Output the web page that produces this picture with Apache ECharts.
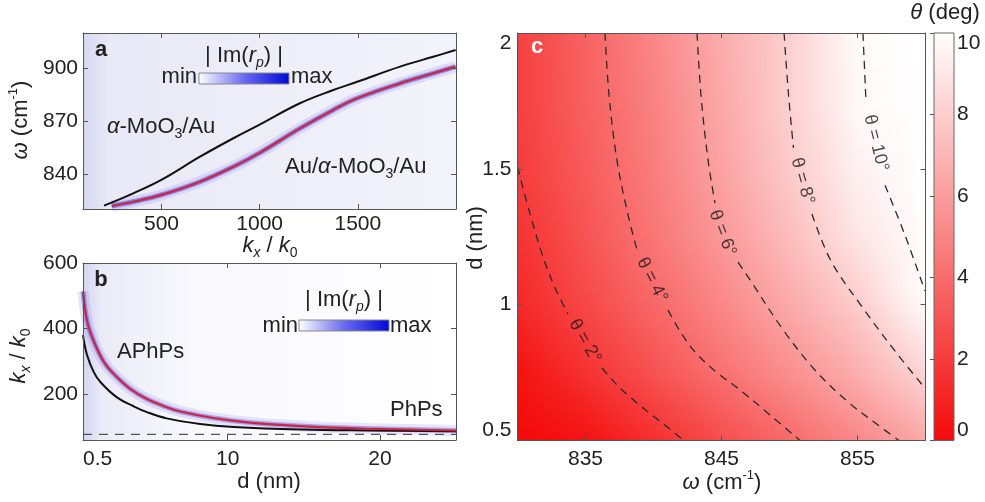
<!DOCTYPE html>
<html><head><meta charset="utf-8">
<script src="https://cdn.jsdelivr.net/npm/echarts@6/dist/echarts.min.js"></script>
<style>html,body{margin:0;padding:0;background:#fff}#chart{width:985px;height:502px}</style>
</head><body><div id="chart"></div>
<script>
// ---------------- data ----------------
// panel a : dispersion omega(kx)
const aTicksX = [500, 1000, 1500];
const aTicksY = [840, 870, 900];
const aBlack_k = [207, 356, 499, 696, 866, 995, 1205, 1375, 1497, 1715, 1884, 1998];
const aBlack_w = [821.9, 828.9, 836.5, 849.7, 860.2, 867.7, 880.1, 887.6, 892.3, 900.9, 906.5, 910.3];
const aRed_k = [246, 356, 499, 696, 866, 995, 1205, 1375, 1497, 1715, 1884, 1998];
const aRed_w = [821.7, 824.1, 828.0, 835.5, 844.0, 851.6, 865.8, 876.3, 882.9, 891.4, 897.1, 900.9];
// panel b : kx(d)
const bTicksX = [0.5, 10, 20];
const bTicksY = [200, 400, 600];
const bBlack_d = [0.5, 0.76, 1.2, 1.64, 2.73, 3.82, 4.7, 6.0, 8.2, 10.4, 14.8, 19.1, 25];
const bBlack_k = [380, 320, 268, 237, 190, 163, 145, 126, 109, 100, 92, 89, 87];
const bRed_d = [0.5, 0.76, 1.2, 1.85, 2.51, 3.6, 4.7, 6.0, 6.89, 9.07, 11.26, 15.4, 19.1, 25];
const bRed_k = [513, 425, 362, 300, 262, 216, 185, 160, 147, 127, 114, 101, 95, 89];
const bAsymptote = 77;
// panel c : theta(omega, d)
const cTicksX = [835, 845, 855];
const cTicksY = [0.5, 1, 1.5, 2];
const cOmega = [830, 835, 840, 845, 850, 855, 860];
const cD = [0.5, 0.75, 1.0, 1.25, 1.5, 1.75, 2.0];
const theta_d050 = [0.0, 0.3, 1.5, 2.7, 3.9, 5.1, 6.4];
const theta_d075 = [0.3, 1.6, 2.9, 4.2, 5.4, 6.7, 8.3];
const theta_d100 = [1.2, 2.5, 3.8, 5.1, 6.5, 7.9, 9.8];
const theta_d125 = [1.6, 3.0, 4.4, 5.8, 7.3, 8.9, 10.5];
const theta_d150 = [2.0, 3.3, 4.7, 6.2, 7.8, 9.4, 11.1];
const theta_d175 = [2.15, 3.5, 4.9, 6.45, 8.1, 9.75, 11.5];
const theta_d200 = [2.2, 3.6, 5.1, 6.6, 8.1, 9.8, 11.6];
// contour lines (split around their labels)
const c2_pre  = [[830, 1.507], [830.92, 1.334], [831.88, 1.175], [832.83, 1.054], [833.71, 0.966]];
const c2_post = [[836.21, 0.767], [837.17, 0.712], [838.27, 0.660], [839.6, 0.605], [840.92, 0.553], [842.24, 0.5]];
const c4_pre  = [[836.43, 2.0], [836.73, 1.772], [837.32, 1.529], [838.13, 1.330], [838.79, 1.201]];
const c4_post = [[841.07, 0.980], [841.99, 0.899], [843.05, 0.826], [844.52, 0.756], [846.36, 0.686], [848.57, 0.594], [850.77, 0.5]];
const c6_pre  = [[843.2, 2.0], [843.49, 1.772], [844.01, 1.533], [844.52, 1.374]];
const c6_post = [[846.21, 1.157], [847.1, 1.091], [849.38, 0.918], [851.8, 0.763], [854.23, 0.645], [856.51, 0.557], [858.05, 0.5]];
const c8_pre  = [[849.6, 2.0], [849.93, 1.772], [850.29, 1.577]];
const c8_post = [[851.65, 1.334], [853.05, 1.161], [855.55, 0.977], [857.98, 0.815], [859.96, 0.693]];
const c10_pre  = [[855.4, 2.0], [855.62, 1.753]];
const c10_post = [[857.02, 1.44], [858.49, 1.256], [859.96, 1.05]];
const contourLabelText = ['θ = 2°', 'θ = 4°', 'θ = 6°', 'θ = 8°', 'θ = 10°'];
const contourLabelPos = [[834.96, 0.866], [839.89, 1.091], [845.07, 1.264], [850.96, 1.455], [856.36, 1.595]];
const contourLabelAngle = [-60, -63, -69, -74, -76];
const cbTicks = [0, 2, 4, 6, 8, 10];

// ---------------- helpers ----------------
const FONT = "'Liberation Sans', Arial, Helvetica, sans-serif";
const zip = (a, b) => a.map((v, i) => [v, b[i]]);
const thetaRows = [theta_d050, theta_d075, theta_d100, theta_d125, theta_d150, theta_d175, theta_d200];
function thetaColor(v) {
  const t = Math.max(0, Math.min(1, v / 10));
  const r = Math.round(244 + 11 * t), g = Math.round(10 + 245 * t);
  return 'rgb(' + r + ',' + g + ',' + g + ')';
}
function ax(gridIndex, position, min, max, ticks, showLabel, labelOpts) {
  return {
    type: 'value', gridIndex, position, min, max, z: 5,
    axisLine: {show: true, onZero: false, lineStyle: {color: '#555', width: 1}},
    axisTick: {show: true, inside: true, length: 5, lineStyle: {color: '#555'}, customValues: ticks},
    axisLabel: Object.assign({show: showLabel, customValues: ticks, color: '#222', fontSize: 21, fontFamily: FONT,
      formatter: v => String(v)}, labelOpts || {}),
    splitLine: {show: false}
  };
}
const rich = {
  n: {fontSize: 22, fontFamily: FONT, color: '#222', lineHeight: 28},
  i: {fontSize: 22, fontFamily: FONT, fontStyle: 'italic', color: '#222', lineHeight: 28},
  sb: {fontSize: 14, fontFamily: FONT, color: '#222', lineHeight: 14, verticalAlign: 'bottom'},
  sbi: {fontSize: 14, fontFamily: FONT, fontStyle: 'italic', color: '#222', lineHeight: 14, verticalAlign: 'bottom'},
  sp: {fontSize: 13, fontFamily: FONT, color: '#222', lineHeight: 13, verticalAlign: 'top'},
  rn: {fontSize: 22, fontFamily: FONT, color: '#d4223a', lineHeight: 28},
  ri: {fontSize: 22, fontFamily: FONT, fontStyle: 'italic', color: '#d4223a', lineHeight: 28},
  rsb: {fontSize: 14, fontFamily: FONT, color: '#d4223a', lineHeight: 14, verticalAlign: 'bottom'}
};
function txt(text, x, y, opts) {
  opts = opts || {};
  return {
    type: 'text', x, y, rotation: opts.rotation || 0, z: 100,
    style: {text, rich, align: opts.align || 'center', verticalAlign: opts.va || 'middle',
      fontSize: opts.size || 22, fontFamily: FONT, fill: opts.color || '#222', fontWeight: opts.weight || 'normal'}
  };
}
function insetBar(x, y, w, h) {
  return {
    type: 'rect', z: 100, shape: {x, y, width: w, height: h},
    style: {fill: new echarts.graphic.LinearGradient(0, 0, 1, 0, [
      {offset: 0, color: '#ffffff'}, {offset: 0.5, color: '#6a6af0'}, {offset: 1, color: '#0008d8'}]),
      stroke: '#888', lineWidth: 1}
  };
}
function lineS(xi, yi, data, color, width, extra) {
  return Object.assign({type: 'line', xAxisIndex: xi, yAxisIndex: yi, data, smooth: 0.4, symbol: 'none',
    silent: true, animation: false, lineStyle: {color, width}}, extra || {});
}
function dashS(data) {
  return {type: 'line', xAxisIndex: 4, yAxisIndex: 4, data, smooth: 0.35, symbol: 'none', silent: true,
    animation: false, z: 4, lineStyle: {color: '#2a2a2a', width: 1.3, type: [8, 6]}};
}

// heat map strips
const S = 12;
const heatItems = [];
for (let j = 0; j < cD.length - 1; j++) for (let s = 0; s < S; s++) heatItems.push([cOmega[0], cD[j], j, s]);

const chart = echarts.init(document.getElementById('chart'), null, {renderer: 'canvas'});
const option = {
  animation: false,
  backgroundColor: '#ffffff',
  grid: [
    {left: 83, top: 33, width: 373, height: 176, show: true, borderWidth: 0,
      backgroundColor: new echarts.graphic.LinearGradient(0, 0, 1, 0, [
        {offset: 0, color: '#d6d6f1'}, {offset: 0.07, color: '#e9e9f7'}, {offset: 1, color: '#f3f3fb'}])},
    {left: 83, top: 263, width: 373, height: 177, show: true, borderWidth: 0,
      backgroundColor: new echarts.graphic.LinearGradient(0, 0, 1, 0, [
        {offset: 0, color: '#d4d4f0'}, {offset: 0.05, color: '#ebebf8'}, {offset: 0.3, color: '#f8f8fd'}, {offset: 1, color: '#ffffff'}])},
    {left: 517.5, top: 33, width: 408, height: 407.5},
    {left: 934, top: 33, width: 20, height: 407.5}
  ],
  xAxis: [
    ax(0, 'bottom', 100, 2000, aTicksX, true, {margin: 5}),
    ax(0, 'top', 100, 2000, aTicksX, false),
    ax(1, 'bottom', 0.5, 25, bTicksX, true, {margin: 9, alignMinLabel: 'left'}),
    ax(1, 'top', 0.5, 25, bTicksX, false),
    ax(2, 'bottom', 830, 860, cTicksX, true, {margin: 8}),
    ax(2, 'top', 830, 860, cTicksX, false),
    {type: 'value', gridIndex: 3, min: 0, max: 1, show: false}
  ],
  yAxis: [
    ax(0, 'left', 820, 920, aTicksY, true, {margin: 5}),
    ax(0, 'right', 820, 920, aTicksY, false),
    ax(1, 'left', 60, 600, bTicksY, true, {margin: 5}),
    ax(1, 'right', 60, 600, bTicksY, false),
    ax(2, 'left', 0.5, 2, cTicksY, true, {margin: 6, verticalAlignMinLabel: 'bottom', verticalAlignMaxLabel: 'top'}),
    ax(2, 'right', 0.5, 2, cTicksY, false),
    {type: 'value', gridIndex: 3, position: 'right', min: cbTicks[0], max: cbTicks[cbTicks.length - 1], z: 5,
      axisLine: {show: false}, splitLine: {show: false},
      axisTick: {show: true, inside: true, length: 4, lineStyle: {color: '#555'}, customValues: cbTicks},
      axisLabel: {show: true, customValues: cbTicks, margin: 3, color: '#222', fontSize: 21, fontFamily: FONT,
        formatter: v => String(v), verticalAlignMinLabel: 'bottom', verticalAlignMaxLabel: 'top'}}
  ],
  series: [
    // ---- panel a
    lineS(0, 0, zip(aRed_k, aRed_w), 'rgba(70,70,235,0.13)', 11),
    lineS(0, 0, zip(aRed_k, aRed_w), 'rgba(30,30,230,0.45)', 5),
    lineS(0, 0, zip(aBlack_k, aBlack_w), '#111', 2),
    lineS(0, 0, zip(aRed_k, aRed_w), '#d4223a', 2.2),
    // ---- panel b
    lineS(2, 2, zip(bRed_d, bRed_k), 'rgba(70,70,235,0.13)', 11),
    lineS(2, 2, zip(bRed_d, bRed_k), 'rgba(40,40,230,0.35)', 5),
    {type: 'line', xAxisIndex: 2, yAxisIndex: 2, data: [[bTicksX[0], bAsymptote], [25, bAsymptote]], symbol: 'none',
      silent: true, animation: false, lineStyle: {color: '#555', width: 1.2, type: [9, 7]}},
    lineS(2, 2, zip(bBlack_d, bBlack_k), '#111', 2),
    lineS(2, 2, zip(bRed_d, bRed_k), '#d4223a', 2.2),
    // ---- panel c heat map
    {type: 'custom', xAxisIndex: 4, yAxisIndex: 4, data: heatItems, silent: true, animation: false, clip: true, z: 1,
      encode: {x: 0, y: 1},
      renderItem: function (params, api) {
        const j = api.value(2), s = api.value(3);
        const t0 = s / S, t1 = (s + 1) / S, tm = (t0 + t1) / 2;
        const dLow = cD[j] + (cD[j + 1] - cD[j]) * t0, dHigh = cD[j] + (cD[j + 1] - cD[j]) * t1;
        const w0 = cOmega[0], w1 = cOmega[cOmega.length - 1];
        const pTL = api.coord([w0, dHigh]), pBR = api.coord([w1, dLow]);
        const rowA = thetaRows[j], rowB = thetaRows[j + 1];
        const stops = cOmega.map((w, i) => ({offset: (w - w0) / (w1 - w0), color: thetaColor(rowA[i] * (1 - tm) + rowB[i] * tm)}));
        return {type: 'rect', shape: {x: pTL[0], y: pTL[1] - 0.5, width: pBR[0] - pTL[0], height: pBR[1] - pTL[1] + 1},
          style: {fill: new echarts.graphic.LinearGradient(0, 0, 1, 0, stops)}};
      }},
    dashS(c2_pre), dashS(c2_post), dashS(c4_pre), dashS(c4_post), dashS(c6_pre), dashS(c6_post),
    dashS(c8_pre), dashS(c8_post), dashS(c10_pre), dashS(c10_post),
    {type: 'scatter', xAxisIndex: 4, yAxisIndex: 4, symbolSize: 0, silent: true, animation: false, z: 6,
      data: contourLabelPos.map((p, i) => ({value: p, name: contourLabelText[i], label: {rotate: contourLabelAngle[i]}})),
      label: {show: true, position: 'inside', formatter: '{b}', color: '#1a1a1a', fontSize: 18, fontFamily: FONT}},
    // ---- colorbar
    {type: 'custom', xAxisIndex: 6, yAxisIndex: 6, data: [[0, cbTicks[0], cbTicks[cbTicks.length - 1]]], silent: true,
      animation: false, z: 2, encode: {x: 0, y: 1},
      renderItem: function (params, api) {
        const p0 = api.coord([0, api.value(2)]), p1 = api.coord([1, api.value(1)]);
        return {type: 'rect', shape: {x: p0[0], y: p0[1], width: p1[0] - p0[0], height: p1[1] - p0[1]},
          style: {fill: new echarts.graphic.LinearGradient(0, 0, 0, 1, [
            {offset: 0, color: thetaColor(cbTicks[cbTicks.length - 1])}, {offset: 1, color: thetaColor(cbTicks[0])}]),
            stroke: '#666', lineWidth: 1}};
      }}
  ],
  graphic: [
    // axis titles
    txt('{i|ω}{n| (cm}{sp|-1}{n|)}', 21, 120, {rotation: Math.PI / 2}),
    txt('{i|k}{sbi|x}{n| / }{i|k}{sb|0}', 270, 246),
    txt('{i|k}{sbi|x}{n| / }{i|k}{sb|0}', 19, 356, {rotation: Math.PI / 2}),
    txt('{n|d (nm)}', 269, 482),
    txt('{n|d (nm)}', 476, 238, {rotation: Math.PI / 2}),
    txt('{i|ω}{n| (cm}{sp|-1}{n|)}', 722, 483),
    txt('{i|θ}{n| (deg)}', 945, 13),
    // panel letters
    txt('a', 101, 50, {weight: 'bold', size: 22}),
    txt('b', 101, 280, {weight: 'bold', size: 22}),
    txt('c', 537, 47, {weight: 'bold', size: 22, color: '#ffffff'}),
    // annotations
    txt('{i|α}{n|-MoO}{sb|3}{n|/Au}', 107, 127, {align: 'left'}),
    txt('{rn|Au/}{ri|α}{rn|-MoO}{rsb|3}{rn|/Au}', 285, 167, {align: 'left'}),
    txt('{n|APhPs}', 117, 352, {align: 'left'}),
    txt('{n|PhPs}', 390, 410, {align: 'left'}),
    // inset colour scales
    txt('{n|| Im(}{i|r}{sbi|p}{n|) |}', 244, 56),
    txt('{n|min}', 197, 77, {align: 'right'}),
    insetBar(199, 73, 90, 11),
    txt('{n|max}', 291, 77, {align: 'left'}),
    txt('{n|| Im(}{i|r}{sbi|p}{n|) |}', 344, 300),
    txt('{n|min}', 298, 326, {align: 'right'}),
    insetBar(299, 320, 90, 11),
    txt('{n|max}', 390, 326, {align: 'left'})
  ]
};
chart.setOption(option);
</script></body></html>
